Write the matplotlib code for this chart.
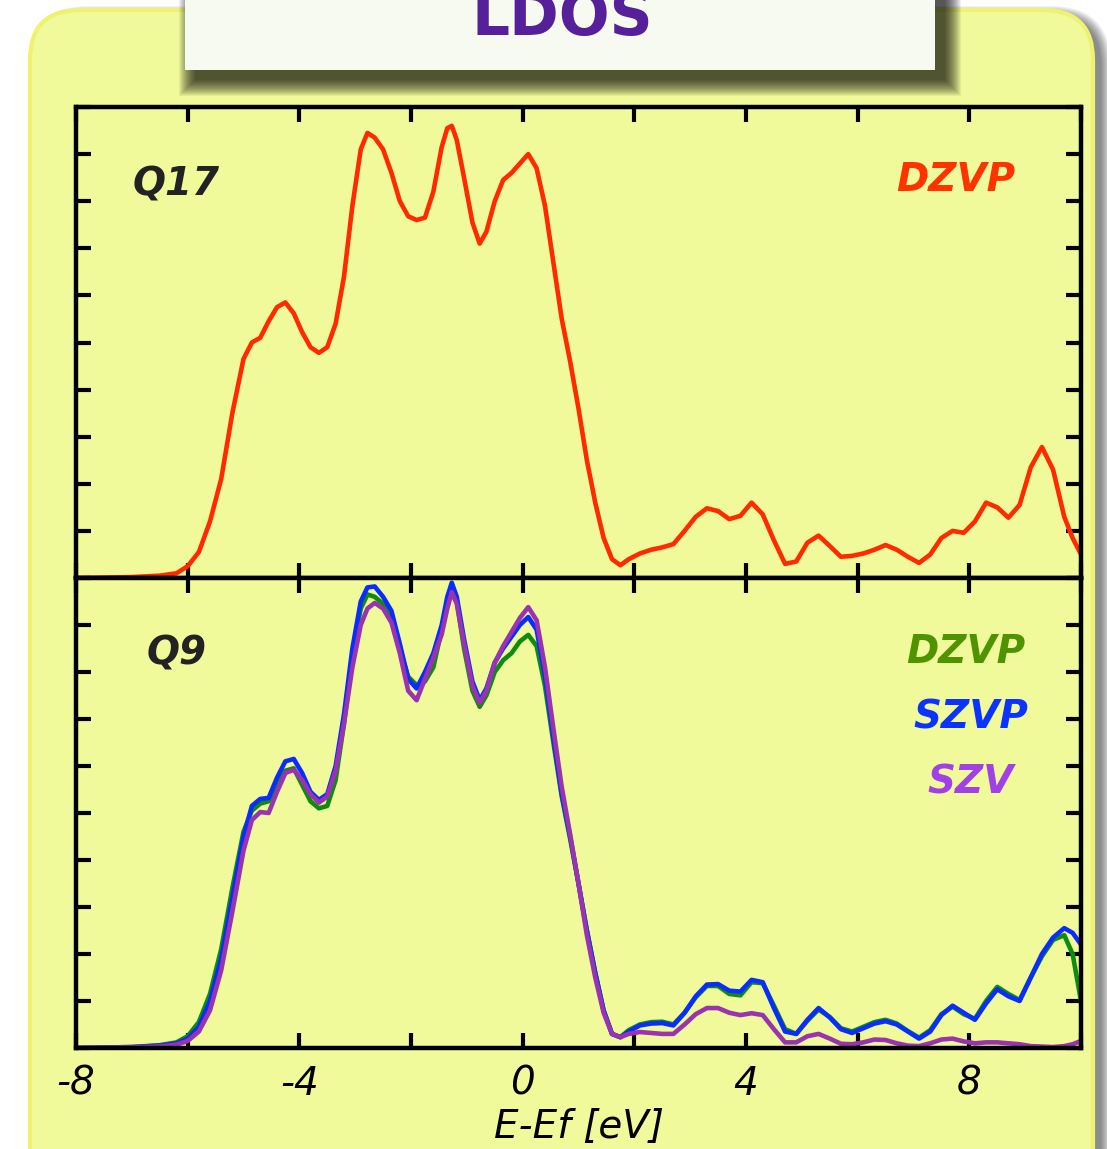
import numpy as np
import matplotlib.pyplot as plt
from matplotlib.patches import FancyBboxPatch, Rectangle

# energy grid (eV), shared by all curves
energy = [-8.0, -7.0, -6.5, -6.2, -6.0, -5.8, -5.6, -5.4, -5.2, -5.0, -4.85, -4.7, -4.55,
          -4.4, -4.25, -4.1, -3.95, -3.8, -3.65, -3.5, -3.35, -3.2, -3.05, -2.9, -2.78,
          -2.65, -2.5, -2.35, -2.2, -2.05, -1.9, -1.75, -1.6, -1.45, -1.35, -1.27, -1.18,
          -1.05, -0.9, -0.77, -0.65, -0.5, -0.35, -0.2, -0.05, 0.1, 0.25, 0.4, 0.55, 0.7,
          0.85, 1.0, 1.15, 1.3, 1.45, 1.6, 1.75, 1.9, 2.1, 2.3, 2.5, 2.7, 2.9, 3.1, 3.3,
          3.5, 3.7, 3.9, 4.1, 4.3, 4.5, 4.7, 4.9, 5.1, 5.3, 5.5, 5.7, 5.9, 6.1, 6.3, 6.5,
          6.7, 6.9, 7.1, 7.3, 7.5, 7.7, 7.9, 8.1, 8.3, 8.5, 8.7, 8.9, 9.1, 9.3, 9.5, 9.7,
          9.85, 10.0]

# Q17, DZVP
q17_dzvp = [0.0, 0.02, 0.05, 0.1, 0.25, 0.55, 1.2, 2.1, 3.5, 4.65, 5.0, 5.1, 5.45,
            5.75, 5.85, 5.62, 5.22, 4.9, 4.78, 4.9, 5.4, 6.4, 7.9, 9.1, 9.45,
            9.35, 9.1, 8.6, 8.0, 7.68, 7.6, 7.65, 8.2, 9.15, 9.55, 9.6, 9.3,
            8.5, 7.55, 7.1, 7.35, 8.0, 8.45, 8.6, 8.8, 9.0, 8.7, 7.9, 6.7, 5.5,
            4.6, 3.6, 2.5, 1.6, 0.85, 0.4, 0.27, 0.4, 0.52, 0.6, 0.65, 0.72, 1.0, 1.3, 1.48,
            1.42, 1.25, 1.32, 1.6, 1.35, 0.8, 0.3, 0.35, 0.75, 0.9, 0.68, 0.45, 0.47, 0.52, 0.6, 0.7,
            0.6, 0.45, 0.32, 0.5, 0.85, 1.0, 0.96, 1.2, 1.6, 1.5, 1.28, 1.55, 2.35, 2.78, 2.3, 1.3,
            0.85, 0.5]

# Q9, three basis sets
q9_dzvp = [0.0, 0.02, 0.06, 0.12, 0.25, 0.55, 1.15, 2.1, 3.4, 4.6, 5.05, 5.2, 5.25,
           5.6, 5.9, 5.95, 5.6, 5.25, 5.1, 5.15, 5.7, 6.9, 8.4, 9.35, 9.65,
           9.6, 9.45, 9.1, 8.5, 7.9, 7.72, 7.8, 8.1, 8.9, 9.5, 9.8, 9.5,
           8.5, 7.6, 7.26, 7.5, 8.0, 8.25, 8.4, 8.65, 8.79, 8.55, 7.7, 6.5, 5.35,
           4.45, 3.5, 2.5, 1.6, 0.8, 0.3, 0.23, 0.38, 0.5, 0.55, 0.56, 0.5, 0.75, 1.08, 1.32,
           1.32, 1.15, 1.12, 1.4, 1.38, 0.9, 0.4, 0.3, 0.58, 0.82, 0.66, 0.42, 0.35, 0.45, 0.55, 0.6,
           0.52, 0.36, 0.22, 0.38, 0.72, 0.88, 0.72, 0.62, 1.0, 1.3, 1.15, 1.02, 1.5, 1.95, 2.3, 2.4,
           2.0, 1.0]
q9_szvp = [0.0, 0.02, 0.05, 0.1, 0.2, 0.45, 1.0, 1.9, 3.2, 4.5, 5.15, 5.3, 5.32,
           5.75, 6.1, 6.15, 5.85, 5.45, 5.28, 5.4, 6.0, 7.1, 8.5, 9.5, 9.8,
           9.82, 9.6, 9.3, 8.6, 7.85, 7.65, 8.0, 8.4, 9.0, 9.6, 9.9, 9.6,
           8.7, 7.8, 7.4, 7.65, 8.2, 8.5, 8.75, 9.0, 9.17, 8.9, 7.9, 6.6, 5.4,
           4.5, 3.5, 2.5, 1.6, 0.8, 0.3, 0.23, 0.35, 0.48, 0.52, 0.53, 0.48, 0.75, 1.1, 1.35,
           1.36, 1.22, 1.2, 1.45, 1.4, 0.85, 0.35, 0.3, 0.6, 0.85, 0.65, 0.4, 0.32, 0.42, 0.52, 0.57,
           0.5, 0.35, 0.2, 0.35, 0.7, 0.9, 0.75, 0.6, 0.95, 1.25, 1.1, 1.0, 1.5, 2.0, 2.35, 2.55,
           2.45, 2.2]
q9_szv = [0.0, 0.01, 0.03, 0.07, 0.15, 0.35, 0.8, 1.65, 2.9, 4.2, 4.85, 5.02, 5.0,
          5.45, 5.85, 5.92, 5.7, 5.4, 5.22, 5.35, 5.9, 6.9, 8.1, 9.0, 9.35,
          9.47, 9.35, 9.05, 8.4, 7.6, 7.4, 7.85, 8.3, 8.8, 9.35, 9.7, 9.45,
          8.6, 7.7, 7.34, 7.6, 8.2, 8.55, 8.85, 9.15, 9.38, 9.1, 8.1, 6.8, 5.55,
          4.55, 3.5, 2.4, 1.5, 0.75, 0.3, 0.23, 0.3, 0.34, 0.32, 0.3, 0.3, 0.5, 0.72, 0.85,
          0.85, 0.75, 0.7, 0.74, 0.7, 0.4, 0.12, 0.12, 0.25, 0.3, 0.2, 0.09, 0.08, 0.12, 0.18, 0.17,
          0.1, 0.05, 0.04, 0.1, 0.18, 0.2, 0.14, 0.1, 0.12, 0.12, 0.1, 0.08, 0.04, 0.03, 0.02, 0.04,
          0.08, 0.15]

x_ticks = [-8, -6, -4, -2, 0, 2, 4, 6, 8, 10]
x_tick_labels = ["-8", "", "-4", "", "0", "", "4", "", "8", ""]

W, H = 1107, 1149
YELLOW = "#f1fa9a"

fig = plt.figure(figsize=(W / 100, H / 100), dpi=100)
fig.patch.set_facecolor("white")

# background decorations drawn in pixel coordinates
bg = fig.add_axes([0, 0, 1, 1], zorder=0)
bg.set_xlim(0, W)
bg.set_ylim(H, 0)
bg.axis("off")

# yellow panel with a soft shadow on the right
for r in range(10, -1, -1):
    bg.add_patch(FancyBboxPatch((30 + 8 - r, 10 + 6 - r), 1063 + 2 * r, 1200,
                                boxstyle="round,pad=0,rounding_size=%d" % (50 + r),
                                fc="black", ec="none", alpha=0.05))
bg.add_patch(FancyBboxPatch((30, 10), 1063, 1200,
                            boxstyle="round,pad=0,rounding_size=50",
                            fc=YELLOW, ec="#eef26e", lw=3))

# title box with blurred drop shadow
for r in range(16, -1, -1):
    bg.add_patch(Rectangle((185 + 10 - r, -20 + 10 - r), 750 + 2 * r, 90 + 2 * r,
                           fc="black", ec="none", alpha=0.06))
bg.add_patch(Rectangle((185, -20), 750, 90, fc="#f7faf0", ec="none"))
bg.text(562, 19, "LDOS", ha="center", va="center", fontsize=43,
        fontweight="bold", color="#55209a", family="DejaVu Sans")

left, width = 76 / W, 1005 / W
ax1 = fig.add_axes([left, 571 / H, width, 471 / H], zorder=2)
ax2 = fig.add_axes([left, 101 / H, width, 470 / H], zorder=2, sharex=ax1)

line_kw = dict(lw=3.3, solid_joinstyle="round", solid_capstyle="round")
ax1.plot(energy, q17_dzvp, color="#ff2a00", **line_kw)
ax2.plot(energy, q9_dzvp, color="#0f8c0f", **line_kw)
ax2.plot(energy, q9_szvp, color="#0a2cff", **line_kw)
ax2.plot(energy, q9_szv, color="#9a33b0", **line_kw)

for ax in (ax1, ax2):
    ax.set_facecolor(YELLOW)
    ax.set_xlim(-8, 10)
    ax.set_ylim(0, 10)
    ax.set_yticks(range(0, 11))
    ax.set_yticklabels([])
    ax.set_xticks(x_ticks)
    ax.tick_params(direction="in", length=11, width=3, top=True, right=True,
                   bottom=True, left=True, color="black")
    for sp in ax.spines.values():
        sp.set_linewidth(3.2)
        sp.set_color("black")

ax1.tick_params(labelbottom=False)
ax2.set_xticklabels(x_tick_labels)
for lab in ax2.get_xticklabels():
    lab.set_fontsize(28)
    lab.set_fontstyle("italic")
ax2.tick_params(axis="x", pad=12)
ax2.set_xlabel("E-Ef [eV]", fontsize=28, fontstyle="italic", labelpad=4)

lab_kw = dict(fontsize=28, fontweight="bold", fontstyle="italic", ha="center", va="center")
ax1.text(0.10, 0.835, "Q17", transform=ax1.transAxes, color="#222222", **lab_kw)
ax1.text(0.875, 0.845, "DZVP", transform=ax1.transAxes, color="#ff3300", **lab_kw)
ax2.text(0.10, 0.84, "Q9", transform=ax2.transAxes, color="#222222", **lab_kw)
ax2.text(0.885, 0.842, "DZVP", transform=ax2.transAxes, color="#4f9400", **lab_kw)
ax2.text(0.89, 0.703, "SZVP", transform=ax2.transAxes, color="#0a33ff", **lab_kw)
ax2.text(0.89, 0.565, "SZV", transform=ax2.transAxes, color="#a040e6", **lab_kw)

fig.savefig("out.png", dpi=100, facecolor="white")
